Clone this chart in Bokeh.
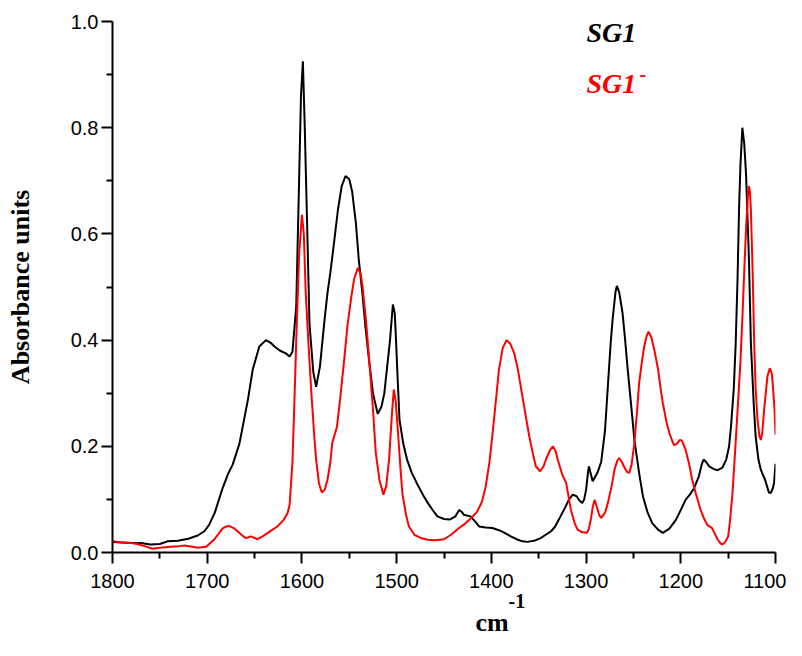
from bokeh.plotting import figure
from bokeh.models import Range1d, FixedTicker, PrintfTickFormatter, Label, Title
from bokeh.embed import file_html
from bokeh.resources import INLINE

# ---- data ----
x_ticks = [1800, 1700, 1600, 1500, 1400, 1300, 1200, 1100]
x_minor = [1750, 1650, 1550, 1450, 1350, 1250, 1150]
y_ticks = [0.0, 0.2, 0.4, 0.6, 0.8, 1.0]
y_minor = [0.1, 0.3, 0.5, 0.7, 0.9]

sg1_wn = [1800, 1790, 1780, 1770, 1760, 1750, 1742, 1731, 1720, 1710, 1703, 1698, 1692, 1684, 1678,
          1673, 1666, 1657, 1652, 1645, 1638, 1633, 1629, 1623, 1617, 1613, 1610, 1606, 1603, 1601,
          1599, 1597, 1594, 1592, 1588, 1585, 1581, 1576, 1573, 1570, 1566, 1562, 1558, 1554, 1550,
          1547, 1543, 1540, 1536, 1533, 1529, 1525, 1520, 1516, 1513, 1510, 1507, 1504, 1502, 1501,
          1499, 1497, 1493, 1489, 1484, 1478, 1472, 1467, 1462, 1457, 1450, 1444, 1438, 1434, 1431,
          1429, 1422, 1417, 1413, 1406, 1399, 1392, 1386, 1379, 1372, 1367, 1362, 1355, 1348, 1343,
          1337, 1333, 1330, 1327, 1322, 1318, 1314, 1310, 1307, 1304, 1302, 1300, 1298, 1297, 1295,
          1293, 1288, 1284, 1280, 1277, 1274, 1272, 1269, 1267.5, 1265, 1261.5, 1259, 1256, 1252, 1249,
          1244, 1240, 1235, 1230, 1224, 1219, 1212, 1205, 1200, 1195, 1190, 1186, 1181, 1178, 1176,
          1173, 1170, 1165, 1161, 1156, 1152, 1149, 1147, 1144, 1142, 1140, 1138.5, 1137, 1135, 1133,
          1131, 1128, 1126, 1123, 1121, 1118, 1115.5, 1113, 1111, 1109, 1107, 1105, 1103, 1101.5, 1100]
sg1_abs = [0.020, 0.019, 0.018, 0.018, 0.015, 0.016, 0.021, 0.022, 0.026, 0.032, 0.040, 0.052, 0.075, 0.120, 0.148,
           0.166, 0.205, 0.288, 0.344, 0.388, 0.400, 0.395, 0.388, 0.380, 0.375, 0.369, 0.378, 0.464, 0.700, 0.860,
           0.925, 0.800, 0.580, 0.430, 0.340, 0.312, 0.350, 0.440, 0.489, 0.527, 0.585, 0.645, 0.690, 0.709, 0.703,
           0.680, 0.620, 0.552, 0.485, 0.426, 0.360, 0.300, 0.261, 0.275, 0.300, 0.350, 0.400, 0.467, 0.450, 0.414,
           0.330, 0.250, 0.205, 0.175, 0.150, 0.128, 0.108, 0.093, 0.080, 0.068, 0.063, 0.062, 0.068, 0.080, 0.076,
           0.071, 0.068, 0.058, 0.049, 0.047, 0.046, 0.042, 0.037, 0.030, 0.024, 0.021, 0.020, 0.022, 0.027, 0.033,
           0.040, 0.048, 0.058, 0.068, 0.085, 0.100, 0.109, 0.106, 0.098, 0.093, 0.100, 0.118, 0.150, 0.162, 0.148,
           0.134, 0.150, 0.171, 0.230, 0.313, 0.395, 0.438, 0.490, 0.502, 0.490, 0.451, 0.405, 0.344, 0.270, 0.212,
           0.150, 0.106, 0.075, 0.055, 0.043, 0.037, 0.045, 0.062, 0.080, 0.099, 0.110, 0.121, 0.143, 0.165, 0.175,
           0.170, 0.162, 0.157, 0.155, 0.160, 0.175, 0.200, 0.237, 0.310, 0.395, 0.520, 0.646, 0.730, 0.800, 0.770,
           0.709, 0.550, 0.395, 0.280, 0.219, 0.175, 0.156, 0.145, 0.137, 0.125, 0.113, 0.112, 0.120, 0.131, 0.167]

sg1m_wn = [1800, 1790, 1780, 1774, 1766, 1758, 1750, 1739, 1730, 1724, 1716, 1710, 1701, 1693, 1688,
           1684, 1680, 1677, 1672, 1668, 1663, 1659, 1655, 1652, 1647, 1642, 1636, 1631, 1626, 1619,
           1615, 1613, 1610, 1608, 1606, 1603, 1600, 1598, 1596, 1593, 1590, 1587, 1585, 1582, 1579,
           1576, 1573, 1570, 1568, 1563, 1559, 1555, 1552, 1548, 1545, 1541, 1538, 1536, 1532, 1529,
           1525, 1522, 1518, 1514, 1511, 1508, 1505, 1503, 1501, 1499, 1496, 1494, 1490, 1487, 1481,
           1474, 1467, 1460, 1450, 1443, 1434, 1428, 1423, 1415, 1410, 1406, 1402, 1399, 1395, 1392,
           1388, 1384, 1380, 1376, 1372, 1369, 1364, 1360, 1356, 1353, 1348.5, 1345, 1342, 1338, 1335,
           1332, 1330, 1325, 1321, 1318, 1316, 1312, 1309, 1304, 1299, 1297, 1295, 1293, 1291, 1289,
           1286, 1284, 1280, 1277, 1273, 1270, 1267, 1265, 1262, 1260, 1257, 1254.5, 1252, 1249, 1246,
           1244, 1241, 1238.6, 1236, 1234, 1231, 1228, 1224, 1221, 1219, 1215, 1212, 1209, 1207, 1204,
           1201, 1199, 1195, 1191, 1188, 1184, 1179, 1175, 1172, 1167, 1164, 1161, 1158, 1156, 1153,
           1150, 1148, 1145.4, 1143, 1140, 1137, 1134.6, 1133, 1131, 1129, 1128, 1127, 1126, 1124, 1122.5,
           1121, 1119, 1117, 1115.5, 1114, 1112, 1110, 1108.5, 1106, 1104, 1103, 1101, 1100]
sg1m_abs = [0.021, 0.019, 0.018, 0.016, 0.012, 0.007, 0.009, 0.011, 0.012, 0.013, 0.011, 0.009, 0.011, 0.024, 0.035,
            0.045, 0.049, 0.050, 0.046, 0.040, 0.032, 0.027, 0.030, 0.029, 0.025, 0.030, 0.037, 0.043, 0.049, 0.062,
            0.075, 0.090, 0.170, 0.280, 0.400, 0.560, 0.636, 0.600, 0.489, 0.390, 0.300, 0.220, 0.175, 0.130, 0.113,
            0.118, 0.137, 0.170, 0.206, 0.237, 0.300, 0.370, 0.426, 0.480, 0.514, 0.536, 0.525, 0.501, 0.430, 0.363,
            0.270, 0.187, 0.135, 0.109, 0.125, 0.175, 0.260, 0.307, 0.285, 0.237, 0.160, 0.112, 0.070, 0.049, 0.033,
            0.027, 0.024, 0.023, 0.025, 0.033, 0.046, 0.054, 0.062, 0.077, 0.095, 0.124, 0.170, 0.219, 0.290, 0.344,
            0.385, 0.400, 0.393, 0.376, 0.345, 0.313, 0.260, 0.219, 0.185, 0.162, 0.153, 0.162, 0.177, 0.193, 0.200,
            0.190, 0.175, 0.146, 0.131, 0.100, 0.080, 0.055, 0.043, 0.038, 0.037, 0.045, 0.062, 0.085, 0.099, 0.088,
            0.070, 0.065, 0.075, 0.093, 0.125, 0.156, 0.173, 0.178, 0.170, 0.162, 0.152, 0.150, 0.165, 0.206, 0.270,
            0.319, 0.360, 0.388, 0.408, 0.416, 0.405, 0.382, 0.345, 0.305, 0.282, 0.245, 0.225, 0.210, 0.202, 0.205,
            0.212, 0.211, 0.194, 0.165, 0.137, 0.110, 0.080, 0.062, 0.052, 0.046, 0.035, 0.024, 0.017, 0.015, 0.020,
            0.030, 0.060, 0.112, 0.180, 0.269, 0.360, 0.457, 0.530, 0.614, 0.675, 0.690, 0.680, 0.646, 0.520, 0.395,
            0.310, 0.250, 0.220, 0.212, 0.225, 0.269, 0.305, 0.332, 0.347, 0.338, 0.319, 0.270, 0.222]

p = figure(frame_width=663, frame_height=531,
           x_range=Range1d(1800, 1100), y_range=Range1d(0.0, 1.0),
           output_backend="svg", toolbar_location=None,
           min_border_left=112, min_border_top=21, min_border_right=11, min_border_bottom=94)
p.outline_line_color = None
p.grid.visible = False
p.background_fill_color = "white"

p.line(sg1_wn, sg1_abs, line_color="black", line_width=2)
p.line(sg1m_wn, sg1m_abs, line_color="#ff0000", line_width=2)

for ax in (p.xaxis[0], p.yaxis[0]):
    ax.axis_line_width = 2
    ax.major_tick_line_width = 2
    ax.minor_tick_line_width = 2
    ax.major_tick_out = 11
    ax.major_tick_in = 0
    ax.minor_tick_out = 6
    ax.minor_tick_in = 0
    ax.major_label_text_font = "Liberation Sans"
    ax.major_label_text_font_size = "20px"
    ax.major_label_text_color = "black"
    ax.axis_line_color = "black"

p.xaxis.ticker = FixedTicker(ticks=x_ticks, minor_ticks=x_minor)
p.yaxis.ticker = FixedTicker(ticks=y_ticks, minor_ticks=y_minor)
p.yaxis.formatter = PrintfTickFormatter(format="%.1f")
p.xaxis.major_label_standoff = 10
p.yaxis.major_label_standoff = 3

p.yaxis.axis_label = "Absorbance units"
p.yaxis.axis_label_text_font = "Liberation Serif"
p.yaxis.axis_label_text_font_style = "bold"
p.yaxis.axis_label_text_font_size = "26px"
p.yaxis.axis_label_text_color = "black"
p.yaxis.axis_label_standoff = 33

# x axis title: cm^-1 (superscript stacked above the base text)
p.add_layout(Title(text="-1", align="left", offset=396, standoff=2,
                   text_font="Liberation Serif", text_font_style="bold",
                   text_font_size="20px", text_color="black"), "below")
p.add_layout(Title(text="cm", align="left", offset=363, standoff=-5,
                   text_font="Liberation Serif", text_font_style="bold",
                   text_font_size="26px", text_color="black"), "below")

# series labels
p.add_layout(Label(x=1299.5, y=0.979, text="SG1", text_font="Liberation Serif",
                   text_font_style="bold italic", text_font_size="28px", text_color="black",
                   text_baseline="alphabetic", text_align="left"))
p.add_layout(Label(x=1299.5, y=0.883, text="SG1", text_font="Liberation Serif",
                   text_font_style="bold italic", text_font_size="28px", text_color="#ff0000",
                   text_baseline="alphabetic", text_align="left"))
p.add_layout(Label(x=1243.5, y=0.902, text="-", text_font="Liberation Serif",
                   text_font_style="bold", text_font_size="20px", text_color="#ff0000",
                   text_baseline="alphabetic", text_align="left"))

open("out.html", "w").write(file_html(p, INLINE))
